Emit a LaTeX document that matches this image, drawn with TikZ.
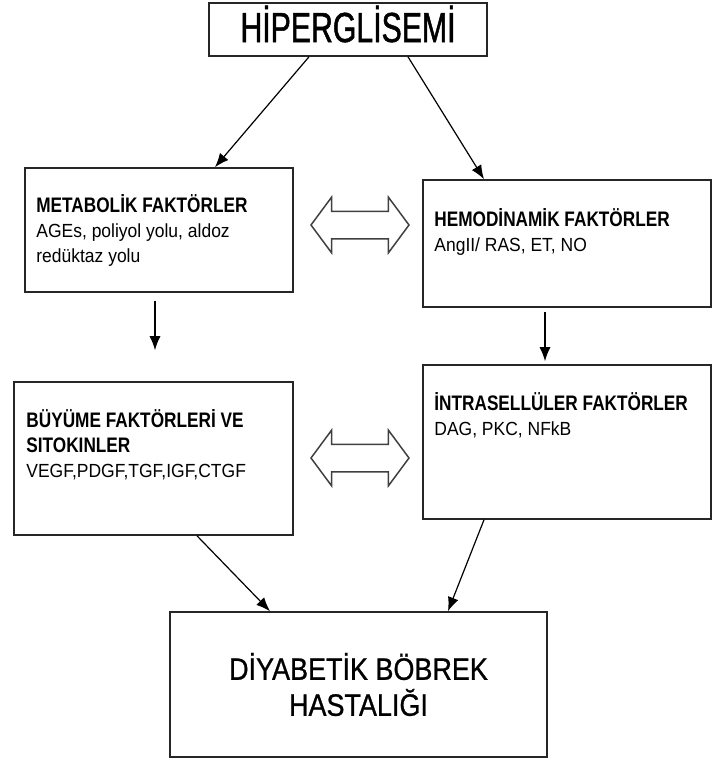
\documentclass[tikz,border=0pt]{standalone}
\usepackage{fontspec}
\setmainfont{Liberation Sans}
\newfontfamily\boxfont[FakeStretch=0.92]{Liberation Sans}
\newfontfamily\headfont[FakeStretch=0.82]{Liberation Sans}
\newfontfamily\bigfont[FakeStretch=0.72, FakeBold=1.2]{Liberation Sans}
\newfontfamily\endfont[FakeStretch=0.87, FakeBold=0.8]{Liberation Sans}
\newcommand{\boxtitle}[1]{{\headfont\bfseries\fontsize{21}{25}\selectfont #1}}
\usetikzlibrary{positioning, arrows.meta, shapes.arrows}

\begin{document}
\begin{tikzpicture}[x=1pt, y=-1pt, >={Latex[length=14pt, width=11pt]},
  box/.style={draw=black!85, line width=1.6pt, inner sep=0pt},
  txt/.style={anchor=base west, inner sep=0pt, align=left,
    font=\boxfont\fontsize{19}{25}\selectfont},
  link/.style={->, draw=black, line width=1.2pt},
  swap/.style={double arrow, draw=black!75, line width=1.5pt,
    double arrow head extend=14pt, double arrow tip angle=107,
    minimum height=98pt, minimum width=0pt, inner xsep=0pt, inner ysep=13pt}]
  \useasboundingbox (0,0) rectangle (713,761);
  \node[box, minimum width=278pt, minimum height=53pt, text height=30pt,
        text depth=5pt, font=\bigfont\fontsize{42}{42}\selectfont]
       (hyper) at (348,29.5) {HİPERGLİSEMİ};
  \node[box, minimum width=268pt, minimum height=124pt] (meta) at (159,230) {};
  \node[box, minimum width=288pt, minimum height=127pt] (hemo) at (567,243.5) {};
  \node[box, minimum width=279pt, minimum height=153pt] (growth) at (153.5,458.5) {};
  \node[box, minimum width=288pt, minimum height=154pt] (intra) at (567,442) {};
  \node[box, minimum width=377pt, minimum height=145pt, align=center,
        font=\endfont\fontsize{31}{36}\selectfont]
       (disease) at (358.5,684.5) {DİYABETİK BÖBREK\\HASTALIĞI};
  % base of a multi-line node = its last line
  \node[txt] (metatxt) at ([xshift=12pt, yshift=-95pt]meta.north west)
       {\boxtitle{METABOLİK FAKTÖRLER}\\AGEs, poliyol yolu, aldoz\\redüktaz yolu};
  \node[txt] (hemotxt) at ([xshift=12pt, yshift=-72pt]hemo.north west)
       {\boxtitle{HEMODİNAMİK FAKTÖRLER}\\AngII/ RAS, ET, NO};
  \node[txt] (growthtxt) at ([xshift=13pt, yshift=-96pt]growth.north west)
       {\boxtitle{BÜYÜME FAKTÖRLERİ VE}\\\boxtitle{SITOKINLER}\\VEGF,PDGF,TGF,IGF,CTGF};
  \node[txt] (intratxt) at ([xshift=12pt, yshift=-71pt]intra.north west)
       {\boxtitle{İNTRASELLÜLER FAKTÖRLER}\\DAG, PKC, NFkB};
  \node[swap] (swap1) at (360,225) {};
  \node[swap] (swap2) at (360,458) {};
  \draw[link] ([xshift=-39pt]hyper.south) -- ([xshift=56pt]meta.north);
  \draw[link] ([xshift=60pt]hyper.south) -- ([xshift=-83pt]hemo.north);
  \draw[link, shorten <=8pt, shorten >=31pt]
       ([xshift=-4pt]meta.south) -- ([xshift=-4pt]meta.south |- growth.north);
  \draw[link, shorten <=4pt, shorten >=3pt]
       ([xshift=-22pt]hemo.south) -- ([xshift=-22pt]hemo.south |- intra.north);
  \draw[link] ([xshift=43.5pt]growth.south) -- ([xshift=-88.5pt]disease.north);
  \draw[link] ([xshift=-83pt]intra.south) -- ([xshift=89.5pt]disease.north);
\end{tikzpicture}
\end{document}
